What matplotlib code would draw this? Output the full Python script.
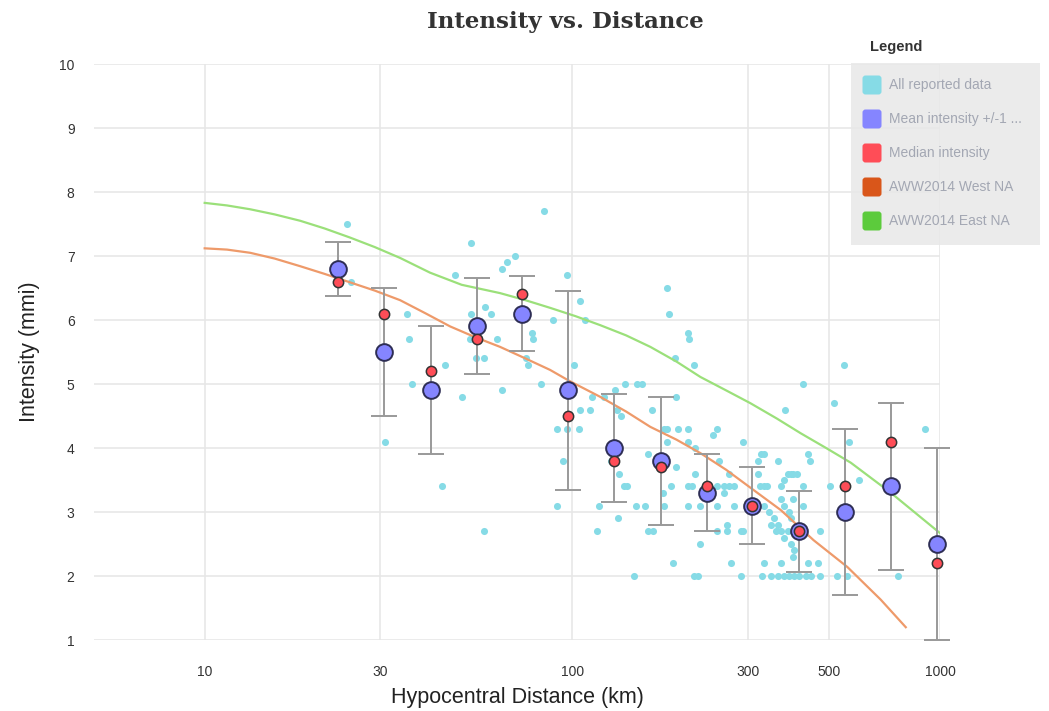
import matplotlib.pyplot as plt
from matplotlib.patches import FancyBboxPatch, Rectangle

# Binned statistics (hypocentral distance in km, intensity in mmi)
bin_dist = [23.0, 30.7, 41.3, 55.1, 73.1, 97.5, 130, 174, 232, 309, 413, 551, 735, 981]
mean_int = [6.8, 5.5, 4.9, 5.9, 6.1, 4.9, 4.0, 3.8, 3.3, 3.1, 2.7, 3.0, 3.4, 2.5]
std_int = [0.42, 1.0, 1.0, 0.75, 0.58, 1.55, 0.85, 1.0, 0.6, 0.6, 0.63, 1.3, 1.3, 1.5]
median_int = [6.6, 6.1, 5.2, 5.7, 6.4, 4.5, 3.8, 3.7, 3.4, 3.1, 2.7, 3.4, 4.1, 2.2]

# All reported data
data_dist = [24.4, 25.0, 31.0, 35.5, 36.0, 36.6, 44.3, 45.0, 48.0, 50.0,
             53.0, 53.0, 52.7, 54.8, 57.4, 57.7, 60.0, 57.6, 62.5, 64.5,
             64.5, 66.5, 70.0, 75.0, 75.7, 77.6, 78.3, 82.0, 84.0, 88.5,
             91.0, 91.0, 94.5, 97.0, 97.0, 100.8, 104, 105, 105, 108.5,
             112, 113, 117, 118, 122, 127, 131, 132, 133, 136,
             134, 138, 141, 139, 150, 155, 147, 149, 158, 161,
             161, 166, 165, 176, 177, 177, 181, 181, 181, 183,
             185, 188, 190, 191, 192, 194, 206, 206, 206, 206,
             206, 208, 212, 214, 214, 215, 215, 219, 222, 222,
             241, 248, 248, 248, 248, 250, 258, 258, 264, 264,
             266, 266, 270, 275, 275, 287, 287, 291, 291, 319,
             319, 323, 325, 332, 332, 332, 332, 338, 329, 342,
             346, 346, 353, 357, 362, 362, 362, 369, 369, 369,
             369, 376, 376, 376, 376, 378, 385, 385, 388, 388,
             393, 393, 393, 398, 398, 398, 400, 400, 408, 413,
             423, 423, 423, 431, 437, 437, 442, 445, 466, 471,
             471, 502, 514, 524, 547, 558, 565, 601, 769, 909]
data_int = [7.5, 6.6, 4.1, 6.1, 5.7, 5.0, 3.4, 5.3, 6.7, 4.8,
            7.2, 6.1, 5.7, 5.4, 5.4, 6.2, 6.1, 2.7, 5.7, 6.8,
            4.9, 6.9, 7.0, 5.4, 5.3, 5.8, 5.7, 5.0, 7.7, 6.0,
            4.3, 3.1, 3.8, 6.7, 4.3, 5.3, 4.3, 6.3, 4.6, 6.0,
            4.6, 4.8, 2.7, 3.1, 4.8, 3.8, 4.9, 4.6, 2.9, 4.5,
            3.6, 3.4, 3.4, 5.0, 5.0, 5.0, 2.0, 3.1, 3.1, 3.9,
            2.7, 2.7, 4.6, 3.3, 4.3, 3.1, 4.1, 4.3, 6.5, 6.1,
            3.4, 2.2, 5.4, 3.7, 4.8, 4.3, 5.8, 4.3, 4.1, 3.4,
            3.1, 5.7, 3.4, 5.3, 2.0, 4.0, 3.6, 2.0, 3.1, 2.5,
            4.2, 4.3, 3.4, 3.1, 2.7, 3.8, 3.4, 3.3, 2.8, 2.7,
            3.6, 3.4, 2.2, 3.4, 3.1, 2.7, 2.0, 4.1, 2.7, 3.8,
            3.6, 3.4, 3.9, 3.9, 3.4, 3.1, 2.2, 3.4, 2.0, 3.0,
            2.0, 2.8, 2.9, 2.7, 3.8, 2.8, 2.0, 3.4, 3.2, 2.7,
            2.2, 3.5, 3.1, 2.6, 2.0, 4.6, 3.6, 2.7, 3.0, 2.0,
            3.6, 2.9, 2.5, 3.6, 3.2, 2.3, 2.4, 2.0, 3.6, 2.0,
            5.0, 3.4, 3.1, 2.0, 3.9, 2.2, 3.8, 2.0, 2.2, 2.7,
            2.0, 3.4, 4.7, 2.0, 5.3, 2.0, 4.1, 3.5, 2.0, 4.3]

# AWW2014 prediction curves
west_dist = [10, 11.5, 13.3, 15.5, 18.2, 21.2, 24.8, 29, 34, 40, 46.5, 54.5, 63.6, 74.5, 87, 98, 119, 140,
             163, 192, 223, 262, 305, 369, 453, 560, 690, 807]
west_int = [7.12, 7.1, 7.05, 6.96, 6.84, 6.72, 6.59, 6.46, 6.31, 6.1, 5.9, 5.73, 5.58, 5.4, 5.22, 5.05,
            4.8, 4.57, 4.33, 4.13, 3.92, 3.66, 3.38, 3.03, 2.56, 2.14, 1.63, 1.2]
east_dist = [10, 11.5, 13.3, 15.5, 18.2, 21.2, 24.8, 29, 34, 41, 50, 63.6, 74.5, 87, 102, 119, 140, 163,
             192, 223, 262, 305, 360, 418, 490, 572, 735, 1000]
east_int = [7.83, 7.79, 7.73, 7.65, 7.55, 7.43, 7.29, 7.14, 6.97, 6.74, 6.55, 6.42, 6.31, 6.19, 6.06,
            5.92, 5.76, 5.58, 5.35, 5.11, 4.9, 4.7, 4.46, 4.23, 4.0, 3.77, 3.3, 2.67]

x_ticks = [10, 30, 100, 300, 500, 1000]
y_ticks = list(range(1, 11))

legend_labels = ['All reported data', 'Mean intensity +/-1 ...', 'Median intensity',
                 'AWW2014 West NA', 'AWW2014 East NA']
legend_colors = ['#86dbe6', '#8585ff', '#ff4d57', '#d9561a', '#5ccb3c']

plt.rcParams['font.family'] = ['Liberation Sans', 'DejaVu Sans']

fig = plt.figure(figsize=(10.49, 7.11), dpi=100)
ax = fig.add_axes([94 / 1049, 1 - 640 / 711, 846 / 1049, 576 / 711])

ax.scatter(data_dist, data_int, s=26, color='#86dbe6', linewidths=0, zorder=2, clip_on=False)
ax.plot(west_dist, west_int, color='#ee9a6a', lw=1.6, zorder=3)
ax.plot(east_dist, east_int, color='#9be07a', lw=1.6, zorder=3)
ax.errorbar(bin_dist, mean_int, yerr=std_int, fmt='none', ecolor='#999999', elinewidth=1.4,
            capsize=9.5, capthick=1.4, zorder=4, clip_on=False)
ax.scatter(bin_dist, mean_int, s=145, color='#8585ff', edgecolors='#2e2e55', linewidths=1.4,
           zorder=5, clip_on=False)
ax.scatter(bin_dist, median_int, s=55, color='#ff4d57', edgecolors='#333333', linewidths=1.1,
           zorder=6, clip_on=False)

ax.set_xscale('log')
ax.set_xlim(5, 1000)
ax.set_ylim(1, 10)
ax.set_xticks(x_ticks)
ax.set_xticklabels([str(t) for t in x_ticks])
ax.minorticks_off()
ax.set_yticks(y_ticks)
ax.grid(True, color='#e6e6e6', lw=1.1)
ax.set_axisbelow(True)
for s in ax.spines.values():
    s.set_visible(False)
ax.tick_params(length=0, labelsize=10, labelcolor='#333333')
ax.tick_params(axis='x', pad=18)
ax.tick_params(axis='y', pad=14)
ax.set_xlabel('Hypocentral Distance (km)', fontsize=15.5, color='#222222', labelpad=6)
ax.set_ylabel('Intensity (mmi)', fontsize=15.5, color='#222222', labelpad=14)

fig.text(565 / 1049, 1 - 22 / 711, 'Intensity vs. Distance', family='DejaVu Serif',
         fontweight='bold', fontsize=16.5, color='#333333', ha='center', va='center')

# Legend drawn in pixel coordinates
lax = fig.add_axes([851 / 1049, 1 - 245 / 711, 189 / 1049, 182 / 711])
lax.set_xlim(851, 1040)
lax.set_ylim(245, 63)
lax.axis('off')
lax.add_patch(Rectangle((851, 63), 189, 182, facecolor='#e8e8e8', alpha=0.85, edgecolor='none'))
fig.text(896 / 1049, 1 - 47 / 711, 'Legend', fontweight='bold', fontsize=10.5,
         color='#333333', ha='center', va='center')
for i, (lab, col) in enumerate(zip(legend_labels, legend_colors)):
    yc = 85 + i * 34
    lax.add_patch(FancyBboxPatch((864, yc - 8), 16, 16, boxstyle='round,pad=1.5,rounding_size=3',
                                 facecolor=col, edgecolor='none'))
    lax.text(889, yc, lab, fontsize=10, color='#a3a7b3', va='center', ha='left')

fig.savefig('out.png', dpi=100)
